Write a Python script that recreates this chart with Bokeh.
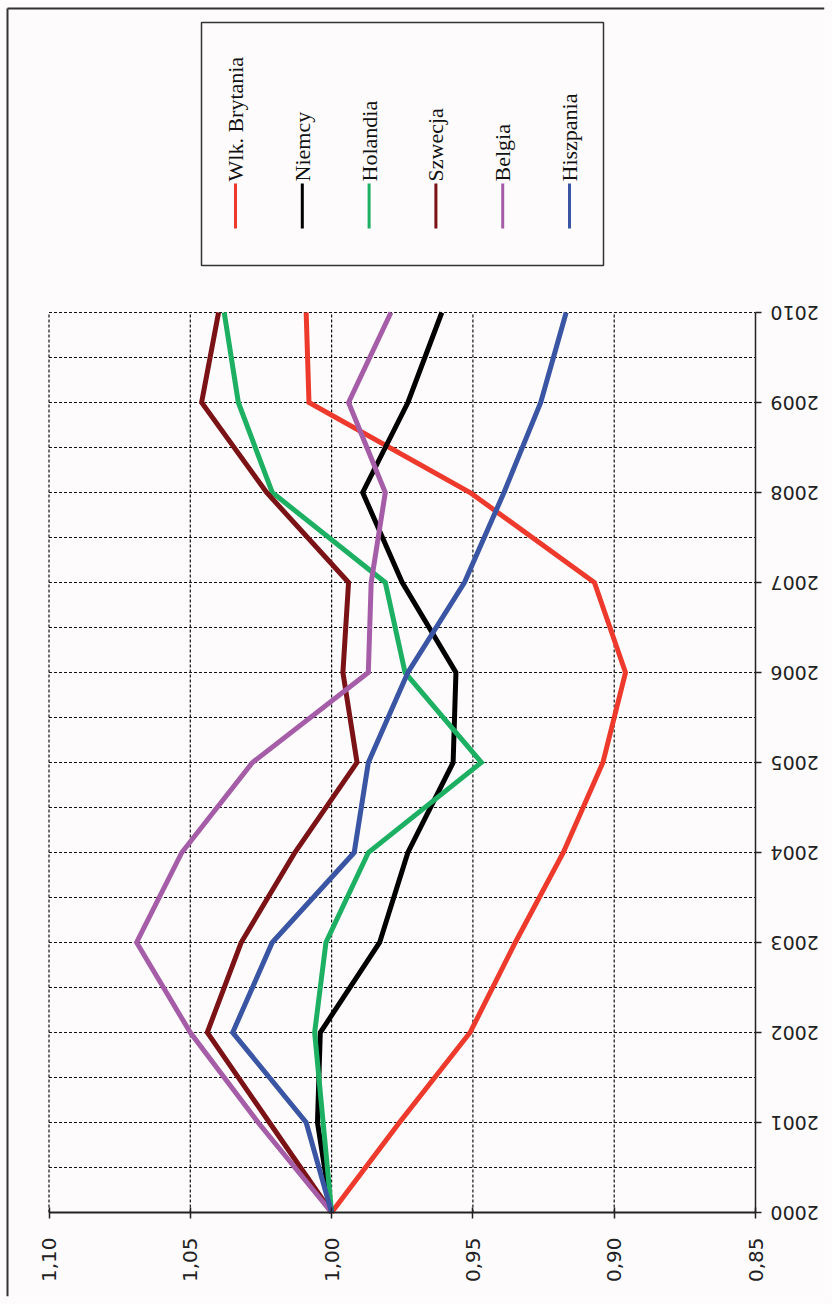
import math
from bokeh.plotting import figure
from bokeh.models import Range1d, FixedTicker, CustomJSTickFormatter
from bokeh.core.properties import value
from bokeh.embed import file_html
from bokeh.resources import INLINE

# Index values (2000 = 1,00)
years = list(range(2000, 2011))
uk = [1.000, 0.976, 0.951, 0.935, 0.918, 0.904, 0.896, 0.907, 0.951, 1.008, 1.009]
de = [1.000, 1.005, 1.004, 0.983, 0.973, 0.957, 0.956, 0.975, 0.989, 0.973, 0.961]
nl = [1.000, 1.003, 1.006, 1.002, 0.987, 0.947, 0.974, 0.981, 1.021, 1.033, 1.038]
se = [1.000, 1.022, 1.044, 1.032, 1.013, 0.991, 0.996, 0.994, 1.023, 1.046, 1.040]
be = [1.000, 1.026, 1.050, 1.069, 1.053, 1.028, 0.987, 0.986, 0.981, 0.994, 0.979]
es = [1.000, 1.009, 1.035, 1.021, 0.992, 0.987, 0.973, 0.953, 0.939, 0.926, 0.917]

names = ["Wlk. Brytania", "Niemcy", "Holandia", "Szwecja", "Belgia", "Hiszpania"]
series = [uk, de, nl, se, be, es]
colors = ["#ee3a2c", "#000000", "#1db063", "#7a1216", "#a55da8", "#3a55a3"]

value_ticks = [0.85, 0.90, 0.95, 1.00, 1.05, 1.10]
value_labels = [f"{v:.2f}".replace(".", ",") for v in value_ticks]
year_labels = [str(y) for y in years]
half_years = [2000.5 + 0.5 * i for i in range(20)]

BG = "#fdfbfc"
INK = "#222222"

W, H = 832, 1304
FRAME_R, FRAME_B = 824, 1296
V_MIN, V_MAX = min(value_ticks), max(value_ticks)
Y_MIN, Y_MAX = years[0], years[-1]

# value scale: 1,10 at x=48.5 px, 0,85 at x=755 px; years 90 px apart, 2000 at y=1212 px
px_per_unit = (755 - 48.5) / (V_MAX - V_MIN)
x_range = Range1d(V_MAX + 48.5 / px_per_unit, V_MIN - (FRAME_R - 755) / px_per_unit)
y_range = Range1d(Y_MIN - (FRAME_B - 1212) / 90, Y_MAX + 312 / 90)

p = figure(width=W, height=H, output_backend="svg", toolbar_location=None,
           x_range=x_range, y_range=y_range,
           x_axis_location="below", y_axis_location="right",
           min_border_left=0, min_border_top=0,
           min_border_right=W - FRAME_R, min_border_bottom=H - FRAME_B,
           background_fill_color=BG, border_fill_color=BG, outline_line_color=None)
p.grid.visible = False

# pixel-style ranges for the legend block and the outer frame
p.extra_x_ranges = {"px": Range1d(0, FRAME_R)}
p.extra_y_ranges = {"px": Range1d(FRAME_B, 0)}

EMPTY = CustomJSTickFormatter(code="return ''")

# value axis, pinned at 2000 (labels drawn as text further down)
xa = p.xaxis[0]
xa.fixed_location = Y_MIN
xa.ticker = FixedTicker(ticks=value_ticks)
xa.formatter = EMPTY
xa.bounds = (V_MIN, V_MAX)
xa.major_tick_in = 5
xa.major_tick_out = 6
xa.major_label_standoff = 0
xa.major_label_text_font_size = "0px"
xa.axis_line_width = 2
xa.axis_line_color = INK
xa.major_tick_line_color = INK
xa.major_tick_line_width = 1.5

# year axis, pinned at 0,85
ya = p.yaxis[0]
ya.fixed_location = V_MIN
ya.ticker = FixedTicker(ticks=years)
ya.formatter = EMPTY
ya.bounds = (Y_MIN, Y_MAX)
ya.major_tick_in = 0
ya.major_tick_out = 6
ya.major_label_standoff = 0
ya.major_label_text_font_size = "0px"
ya.axis_line_width = 1.5
ya.axis_line_color = INK
ya.major_tick_line_color = INK
ya.major_tick_line_width = 1.5

# tick labels: values read bottom-to-top, years upside down
p.text(x=value_ticks, y=[Y_MIN] * len(value_ticks), text=value_labels, angle=math.pi / 2,
       y_offset=25, text_align="right", text_baseline="middle",
       text_font=value("DejaVu Sans"), text_font_size="20px", text_color=INK)
p.text(x=[V_MIN] * len(years), y=years, text=year_labels, angle=math.pi,
       x_offset=15, text_align="right", text_baseline="middle",
       text_font=value("DejaVu Sans"), text_font_size="19px", text_color=INK)

# dashed grid
vgrid = [v for v in value_ticks if v != V_MIN]
p.segment(x0=vgrid, y0=[Y_MIN] * len(vgrid), x1=vgrid, y1=[Y_MAX] * len(vgrid),
          line_color="#111111", line_width=1.2, line_dash="3 2")
p.segment(x0=[V_MAX] * len(half_years), y0=half_years, x1=[V_MIN] * len(half_years), y1=half_years,
          line_color="#111111", line_width=1.2, line_dash="3 2")

# series
for vals, c in zip(series, colors):
    p.line(vals, years, line_color=c, line_width=5, line_join="miter")

# outer frame (top and left edges)
p.segment(x0=[7, 7], y0=[8, 8], x1=[FRAME_R, 7], y1=[8, FRAME_B], line_color="#333333",
          line_width=2, x_range_name="px", y_range_name="px")

# legend
lx = [235 + 66.8 * i for i in range(len(names))]
p.quad(left=[201], right=[603], top=[22], bottom=[265], fill_color=BG,
       line_color="#333333", line_width=1.5, x_range_name="px", y_range_name="px")
p.segment(x0=lx, y0=[183] * len(lx), x1=lx, y1=[228] * len(lx), line_color=colors,
          line_width=3, x_range_name="px", y_range_name="px")
p.text(x=lx, y=[181] * len(lx), text=names, angle=math.pi / 2,
       text_align="left", text_baseline="middle",
       text_font=value("Liberation Serif"), text_font_size="22px", text_color="#111111",
       x_range_name="px", y_range_name="px")

open("out.html", "w").write(file_html(p, INLINE))
